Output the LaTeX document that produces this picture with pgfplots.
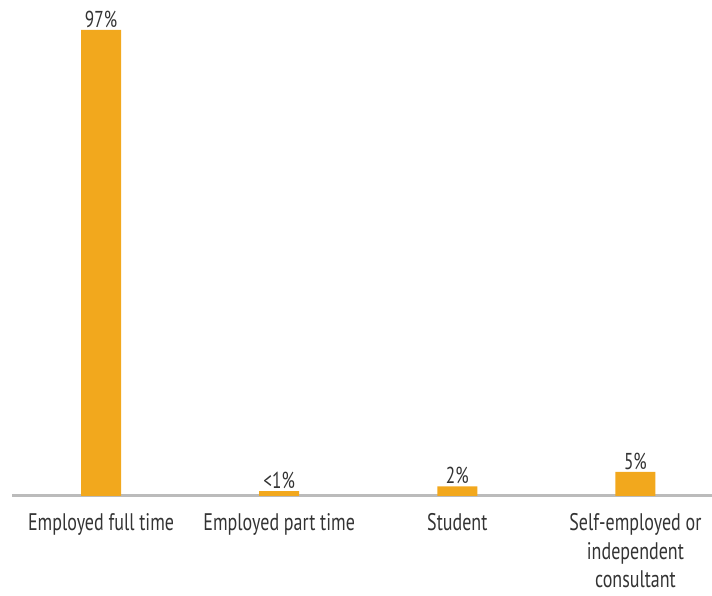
\documentclass[border=0pt]{standalone}
\usepackage{fontspec}
\setmainfont{PT Sans}[FakeStretch=0.75]
\usepackage{pgfplots}
\pgfplotsset{compat=1.18}
\usetikzlibrary{calc}
\definecolor{barc}{HTML}{F2A81D}
\definecolor{axc}{HTML}{BBBBBB}
\definecolor{txt}{HTML}{333333}
\begin{document}
\begin{tikzpicture}
\begin{axis}[name=ax,
  scale only axis, width=700bp, height=466bp,
  xmin=-0.5, xmax=3.43, ymin=0, ymax=97,
  axis x line=bottom, axis y line=none,
  axis line style={draw=axc, line width=3bp, -},
  xtick=data, xtick style={draw=none},
  xticklabels={Employed full time, Employed part time, Student, {Self-employed or\\independent\\consultant}},
  xticklabel style={align=center, font=\fontsize{24bp}{28.5bp}\selectfont, text=txt, yshift=-10bp},
  ytick=\empty,
  ybar, bar width=40bp,
  nodes near coords, point meta=explicit symbolic,
  every node near coord/.append style={font=\fontsize{23bp}{26bp}\selectfont, text=txt, yshift=-1bp},
  clip=false,
]
\addplot[fill=barc, draw=none] coordinates {(0,97) [97\%] (1,1) [<1\%] (2,2) [2\%] (3,5) [5\%]};
\end{axis}
\pgfresetboundingbox
\path ($(ax.south west)+(-12bp,-100bp)$) rectangle ($(ax.north east)+(0,30bp)$);
\end{tikzpicture}
\end{document}
